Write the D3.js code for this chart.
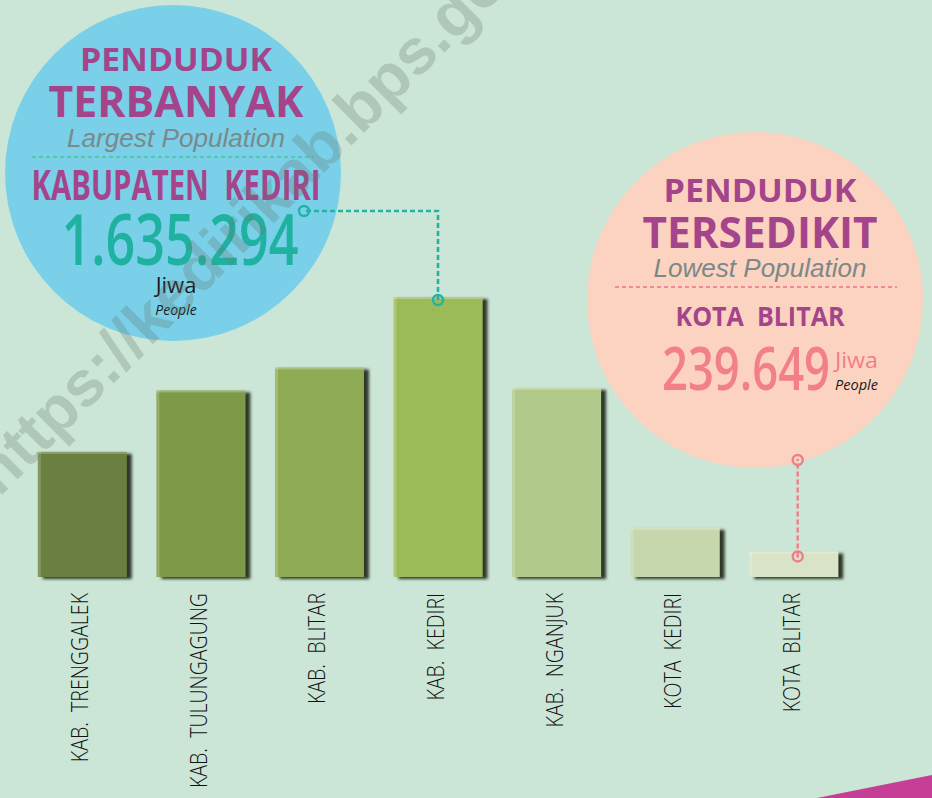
<!DOCTYPE html>
<html>
<head>
<meta charset="utf-8">
<script src="https://cdn.jsdelivr.net/npm/d3@7"></script>
<style>
  html, body { margin: 0; padding: 0; background: #cbe6d6; }
  svg { display: block; }
  text { white-space: pre; }
</style>
</head>
<body>
<div id="chart"></div>
<script>
var regions = ["KAB.  TRENGGALEK", "KAB.  TULUNGAGUNG", "KAB.  BLITAR", "KAB.  KEDIRI",
               "KAB.  NGANJUK", "KOTA  KEDIRI", "KOTA  BLITAR"];
var population = [731000, 1090000, 1224000, 1635294, 1104000, 287000, 149000];
var largest = { title1: "PENDUDUK", title2: "TERBANYAK", sub: "Largest Population",
                name: "KABUPATEN  KEDIRI", value: "1.635.294" };
var lowest = { title1: "PENDUDUK", title2: "TERSEDIKIT", sub: "Lowest Population",
               name: "KOTA  BLITAR", value: "239.649" };

var barColors = ["#6b8040", "#7e9a4a", "#8fac55", "#9bbb58", "#b1c98a", "#c6d6ad", "#d9e3c6"];

var svgWidth = 932;
var svgHeight = 798;

var svg = d3.select("#chart")
  .append("svg")
  .attr("width", svgWidth)
  .attr("height", svgHeight);

var defs = svg.append("defs");
var shadow = defs.append("filter")
  .attr("id", "barShadow")
  .attr("x", "-10%").attr("y", "-10%")
  .attr("width", "130%").attr("height", "130%");
shadow.append("feDropShadow")
  .attr("dx", 5).attr("dy", 2)
  .attr("stdDeviation", 1.4)
  .attr("flood-color", "#1c2214")
  .attr("flood-opacity", 0.9);

svg.append("rect")
  .attr("width", svgWidth)
  .attr("height", svgHeight)
  .attr("fill", "#cbe6d6");

// scales
var x = d3.scaleBand()
  .domain(regions)
  .range([23, 853])
  .paddingInner(0.25)
  .paddingOuter(0.125);

var y = d3.scaleLinear()
  .domain([0, d3.max(population)])
  .range([577, 297]);

var color = d3.scaleOrdinal().domain(regions).range(barColors);

var data = regions.map(function(r, i) { return { region: r, value: population[i] }; });

function fitText(sel, w) {
  sel.attr("textLength", w).attr("lengthAdjust", "spacingAndGlyphs");
}

// circles
svg.append("circle")
  .attr("cx", 173).attr("cy", 173).attr("r", 168)
  .attr("fill", "#79d0e8");

svg.append("circle")
  .attr("cx", 755).attr("cy", 300).attr("r", 168)
  .attr("fill", "#fcd3c0");

// bars
var barGroup = svg.append("g");

var bars = barGroup.selectAll("g.bar")
  .data(data)
  .enter()
  .append("g")
  .attr("class", "bar");

bars.append("rect")
  .attr("x", d => x(d.region))
  .attr("y", d => y(d.value))
  .attr("width", x.bandwidth())
  .attr("height", d => y(0) - y(d.value))
  .attr("fill", d => color(d.region))
  .attr("filter", "url(#barShadow)");

// bevel highlight left + top
bars.append("rect")
  .attr("x", d => x(d.region))
  .attr("y", d => y(d.value))
  .attr("width", 3)
  .attr("height", d => y(0) - y(d.value))
  .attr("fill", "#ffffff")
  .attr("opacity", 0.18);

bars.append("rect")
  .attr("x", d => x(d.region))
  .attr("y", d => y(d.value))
  .attr("width", x.bandwidth())
  .attr("height", 2)
  .attr("fill", "#ffffff")
  .attr("opacity", 0.25);

// category labels
var labels = svg.append("g").selectAll("text")
  .data(data)
  .enter()
  .append("text")
  .attr("transform", d => `translate(${x(d.region) + x.bandwidth() / 2 + 6}, 593) rotate(-90)`)
  .attr("text-anchor", "end")
  .attr("font-family", "'Open Sans', sans-serif")
  .attr("font-size", 23)
  .attr("font-weight", 300)
  .attr("fill", "#111111")
  .text(d => d.region);

labels.each(function() {
  var len = this.getComputedTextLength();
  d3.select(this).attr("textLength", len * 0.85).attr("lengthAdjust", "spacingAndGlyphs");
});

// connectors
var teal = "#1fb4a5";
var kediri = data[3];
var kx = x(kediri.region) + x.bandwidth() / 2;
var ky = y(kediri.value) + 3;

svg.append("path")
  .attr("d", `M${kx},${ky} L${kx},211 L304,211`)
  .attr("fill", "none")
  .attr("stroke", teal)
  .attr("stroke-width", 2.6)
  .attr("stroke-dasharray", "5,3");

[[kx, ky], [304, 211]].forEach(function(p) {
  svg.append("circle").attr("cx", p[0]).attr("cy", p[1]).attr("r", 5)
    .attr("fill", "none").attr("stroke", teal).attr("stroke-width", 2.4);
});

var pink = "#f07d8b";
var blitar = data[6];
var bx = x(blitar.region) + x.bandwidth() / 2 + 4;
var by = y(blitar.value) + 5;

svg.append("path")
  .attr("d", `M${bx},${by} L${bx},460`)
  .attr("fill", "none")
  .attr("stroke", pink)
  .attr("stroke-width", 2.4)
  .attr("stroke-dasharray", "5,3");

[[bx, by], [bx, 460]].forEach(function(p) {
  svg.append("circle").attr("cx", p[0]).attr("cy", p[1]).attr("r", 5)
    .attr("fill", "none").attr("stroke", pink).attr("stroke-width", 2.4);
  svg.append("circle").attr("cx", p[0]).attr("cy", p[1]).attr("r", 1.3)
    .attr("fill", pink);
});

// callout texts
var magenta = "#a4458b";

function callout(info, cx, ys, widths, dashColor, dashX) {
  var g = svg.append("g").attr("font-family", "'Open Sans', sans-serif");

  g.append("text").attr("x", cx).attr("y", ys[0]).attr("text-anchor", "middle")
    .attr("font-size", 33).attr("font-weight", 700).attr("fill", magenta)
    .text(info.title1).call(fitText, widths[0]);

  g.append("text").attr("x", cx).attr("y", ys[1]).attr("text-anchor", "middle")
    .attr("font-size", 43).attr("font-weight", 700).attr("fill", magenta)
    .text(info.title2).call(fitText, widths[1]);

  g.append("text").attr("x", cx).attr("y", ys[2]).attr("text-anchor", "middle")
    .attr("font-family", "'Liberation Sans', Arial, sans-serif")
    .attr("font-size", 25).attr("font-style", "italic").attr("fill", "#7b8989")
    .text(info.sub).call(fitText, widths[2]);

  g.append("line")
    .attr("x1", dashX[0]).attr("x2", dashX[1])
    .attr("y1", ys[3]).attr("y2", ys[3])
    .attr("stroke", dashColor).attr("stroke-width", 2)
    .attr("stroke-dasharray", "4,3");

  return g;
}

var g1 = callout(largest, 176, [71, 117, 147, 157], [192, 255, 218], "#52c7a4", [32, 313]);

g1.append("text").attr("x", 176).attr("y", 200).attr("text-anchor", "middle")
  .attr("font-size", 42).attr("font-weight", 700).attr("fill", magenta)
  .text(largest.name).call(fitText, 289);

g1.append("text").attr("x", 180).attr("y", 265).attr("text-anchor", "middle")
  .attr("font-size", 70).attr("font-weight", 600).attr("fill", "#20b2a1")
  .text(largest.value).call(fitText, 237);

g1.append("text").attr("x", 176).attr("y", 293).attr("text-anchor", "middle")
  .attr("font-size", 22).attr("fill", "#1a1a1a")
  .text("Jiwa");

g1.append("text").attr("x", 176).attr("y", 315).attr("text-anchor", "middle")
  .attr("font-size", 14).attr("font-style", "italic").attr("fill", "#1a1a1a")
  .text("People");

var g2 = callout(lowest, 760, [202, 248, 277, 287], [193, 235, 213], "#ef8a96", [615, 897]);

g2.append("text").attr("x", 760).attr("y", 326).attr("text-anchor", "middle")
  .attr("font-size", 26).attr("font-weight", 700).attr("fill", magenta)
  .text(lowest.name).call(fitText, 169);

g2.append("text").attr("x", 662).attr("y", 390)
  .attr("font-size", 60).attr("font-weight", 600).attr("fill", "#f27f89")
  .text(lowest.value).call(fitText, 168);

g2.append("text").attr("x", 835).attr("y", 368)
  .attr("font-size", 21).attr("fill", "#f27f89")
  .text("Jiwa").call(fitText, 43);

g2.append("text").attr("x", 835).attr("y", 390)
  .attr("font-size", 14).attr("font-style", "italic").attr("fill", "#1a1a1a")
  .text("People").call(fitText, 43);

// corner decoration
svg.append("path")
  .attr("d", "M817,798 L932,775 L932,798 Z")
  .attr("fill", "#c63f97");

// watermark
svg.append("text")
  .attr("transform", "translate(-1,498) rotate(-45)")
  .attr("font-family", "'Liberation Sans', Arial, sans-serif")
  .attr("font-weight", 700)
  .attr("font-size", 64)
  .attr("fill", "#64786e")
  .attr("opacity", 0.27)
  .text("https://kedirikab.bps.go.id");
</script>
</body>
</html>
